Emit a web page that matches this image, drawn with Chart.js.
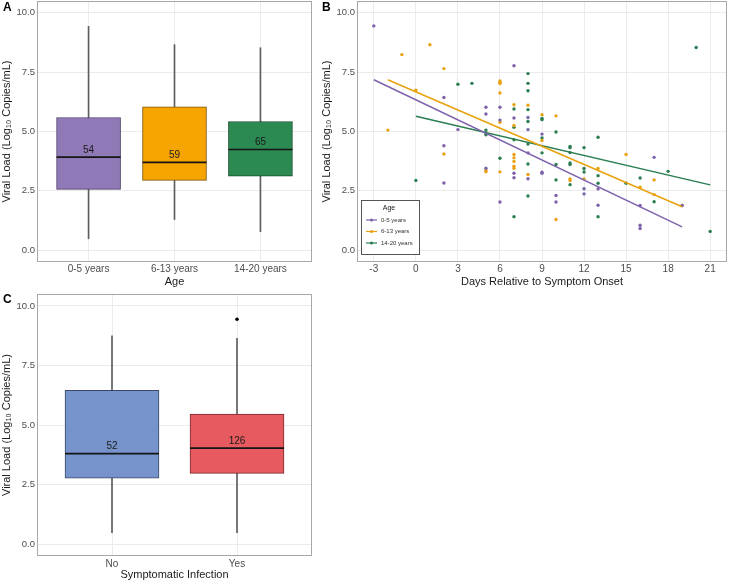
<!DOCTYPE html>
<html>
<head>
<meta charset="utf-8">
<script src="https://cdn.jsdelivr.net/npm/chart.js@4.4.1/dist/chart.umd.min.js"></script>
<style>
  body { margin: 0; background: #fff; width: 729px; height: 582px; position: relative; overflow: hidden; font-family: "Liberation Sans", Arial, sans-serif; }
  .panel { position: absolute; }
  .tag { position: absolute; font-weight: bold; font-size: 12px; color: #000; }
</style>
</head>
<body>
<div class="panel" style="left:0;top:0;width:364px;height:290px"><canvas id="chartA" width="364" height="290"></canvas></div>
<div class="panel" style="left:320px;top:0;width:409px;height:290px"><canvas id="chartB" width="409" height="290"></canvas></div>
<div class="panel" style="left:0;top:290px;width:364px;height:292px"><canvas id="chartC" width="364" height="292"></canvas></div>
<div class="tag" style="left:3px;top:0px">A</div>
<div class="tag" style="left:322px;top:0px">B</div>
<div class="tag" style="left:3px;top:292px">C</div>
<script>
// panel A: viral load by age group
const ageGroups = ['0-5 years', '6-13 years', '14-20 years'];
const ageLow = [0.48, 1.29, 0.78];
const ageQ1 = [2.56, 2.94, 3.12];
const ageMedian = [3.92, 3.70, 4.24];
const ageQ3 = [5.59, 6.04, 5.42];
const ageHigh = [9.43, 8.66, 8.53];
const ageCounts = [54, 59, 65];

// panel C: viral load by symptomatic infection
const symptomGroups = ['No', 'Yes'];
const symLow = [0.48, 0.48];
const symQ1 = [2.77, 2.97];
const symMedian = [3.80, 4.03];
const symQ3 = [6.46, 5.46];
const symHigh = [8.74, 8.64];
const symCounts = [52, 126];
const symOutlierGroup = [2];
const symOutlierValue = [9.44];

const yTicks = [0, 2.5, 5, 7.5, 10];
const dayTicks = [-3, 0, 3, 6, 9, 12, 15, 18, 21];

// panel B: viral load vs days since symptom onset
const days05 = [-3, 2, 2, 2, 3, 5, 5, 5, 6, 6, 6, 7, 7, 7, 7, 8, 8, 8, 8, 9, 9, 9, 10, 10, 12, 12, 13, 13, 16, 16, 16, 17, 19];
const load05 = [9.45, 6.43, 4.40, 2.83, 5.08, 6.02, 5.74, 3.45, 6.02, 5.48, 2.03, 7.77, 5.57, 3.24, 3.05, 5.59, 5.08, 4.10, 3.01, 4.89, 3.28, 3.24, 2.30, 2.03, 2.59, 2.37, 2.58, 1.89, 1.88, 1.05, 0.91, 3.91, 1.88];
const days613 = [-2, -1, 0, 1, 2, 2, 5, 5, 6, 6, 6, 6, 6, 6, 7, 7, 7, 7, 7, 7, 7, 8, 8, 9, 9, 10, 10, 11, 11, 12, 13, 15, 16, 17, 17, 19];
const load613 = [5.06, 8.24, 6.74, 8.66, 7.65, 4.05, 3.36, 3.30, 7.13, 7.07, 7.02, 6.62, 5.39, 3.30, 6.13, 5.25, 4.03, 3.89, 3.74, 3.54, 3.45, 6.11, 3.19, 5.71, 4.62, 5.66, 1.29, 3.00, 2.93, 3.00, 3.44, 4.03, 2.65, 2.96, 2.34, 1.88];
const days1420 = [0, 3, 4, 5, 5, 5, 6, 7, 7, 7, 7, 8, 8, 8, 8, 8, 8, 8, 8, 9, 9, 9, 9, 10, 10, 10, 11, 11, 11, 11, 11, 11, 12, 12, 12, 13, 13, 13, 13, 15, 16, 17, 18, 20, 21];
const load1420 = [2.94, 6.99, 7.03, 5.06, 4.94, 4.86, 3.87, 5.95, 5.18, 4.65, 1.41, 7.44, 7.03, 6.72, 5.92, 5.42, 4.47, 3.63, 2.28, 5.55, 5.50, 4.73, 4.10, 4.98, 3.61, 2.96, 4.37, 4.32, 4.11, 3.67, 3.61, 2.76, 4.32, 3.44, 3.29, 4.76, 3.14, 2.82, 1.41, 2.82, 3.04, 2.04, 3.32, 8.54, 0.79];

// fitted regression lines (end points)
const fitDays05 = [-3, 19];
const fitLoad05 = [7.18, 0.98];
const fitDays613 = [-2, 19];
const fitLoad613 = [7.18, 1.83];
const fitDays1420 = [0, 21];
const fitLoad1420 = [5.64, 2.75];

Chart.defaults.font.family = '"Liberation Sans", Arial, sans-serif';
Chart.defaults.animation = false;
Chart.defaults.plugins.legend.display = false;
Chart.defaults.plugins.tooltip.enabled = false;

const yTitle = 'Viral Load (Log\u2081\u2080 Copies/mL)';

function toPoints(xs, ys) {
    return xs.map((x, i) => ({ x: x, y: ys[i] }));
}

// chart.js pads the area for the edge tick labels, drop that so the plot fills its box
function noEdgePadding(s) {
    s.paddingTop = 0;
    s.paddingBottom = 0;
    s.paddingLeft = 0;
    s.paddingRight = 0;
}

function yAxis() {
    return {
        type: 'linear',
        min: -0.5,
        max: 10.5,
        afterBuildTicks: s => { s.ticks = yTicks.map(v => ({ value: v })); },
        afterFit: s => { s.width = 37; noEdgePadding(s); },
        ticks: {
            callback: v => v.toFixed(1),
            color: '#4d4d4d',
            font: { size: 9.5 },
            padding: 2
        },
        grid: { color: '#ebebeb', drawTicks: false },
        border: { display: false },
        title: { display: true, text: yTitle, color: '#1a1a1a', font: { size: 11 }, padding: { top: 0.5, bottom: 0 } }
    };
}

function xCategoryAxis(labels, height, title, tickPad, titlePad) {
    return {
        type: 'linear',
        offset: false,
        min: 0.4,
        max: labels.length + 0.6,
        afterBuildTicks: s => { s.ticks = labels.map((l, i) => ({ value: i + 1 })); },
        afterFit: s => { s.height = height; noEdgePadding(s); },
        ticks: {
            callback: v => labels[v - 1],
            color: '#4d4d4d',
            font: { size: 10 },
            padding: tickPad,
            maxRotation: 0,
            autoSkip: false
        },
        grid: { color: '#ebebeb', drawTicks: false, offset: false },
        border: { display: false },
        title: { display: true, text: title, color: '#1a1a1a', font: { size: 11 }, padding: { top: 0, bottom: titlePad } }
    };
}

const panelBorder = {
    id: 'panelBorder',
    afterDraw(chart) {
        const { ctx, chartArea: a } = chart;
        ctx.save();
        ctx.strokeStyle = '#a8a8a8';
        ctx.lineWidth = 1;
        ctx.strokeRect(Math.round(a.left) + 0.5, Math.round(a.top) + 0.5, Math.round(a.width) - 1, Math.round(a.height) - 1);
        ctx.restore();
    }
};

function boxMarks(medians, counts, boxWidth) {
    return {
        id: 'boxMarks',
        afterDatasetsDraw(chart) {
            const { ctx, scales } = chart;
            ctx.save();
            medians.forEach((m, i) => {
                const cx = scales.x.getPixelForValue(i + 1);
                const y = scales.y.getPixelForValue(m);
                ctx.strokeStyle = '#151515';
                ctx.lineWidth = 1.6;
                ctx.beginPath();
                ctx.moveTo(cx - boxWidth / 2, y);
                ctx.lineTo(cx + boxWidth / 2, y);
                ctx.stroke();
                ctx.fillStyle = '#1a1a1a';
                ctx.font = '10px "Liberation Sans", Arial, sans-serif';
                ctx.textAlign = 'center';
                ctx.textBaseline = 'middle';
                ctx.fillText(String(counts[i]), cx, y - 7);
            });
            ctx.restore();
        }
    };
}

function boxDatasets(q1, q3, low, high, fills, borders, boxWidth) {
    return [
        {
            type: 'bar',
            data: q1.map((v, i) => ({ x: i + 1, y: [v, q3[i]] })),
            backgroundColor: fills,
            borderColor: borders,
            borderWidth: 1,
            borderSkipped: false,
            barThickness: boxWidth,
            grouped: false
        },
        {
            type: 'bar',
            data: low.map((v, i) => ({ x: i + 1, y: [v, high[i]] })),
            backgroundColor: '#5e5e5e',
            barThickness: 1,
            grouped: false
        }
    ];
}

// Panel A
const boxWidthA = 64;
new Chart(document.getElementById('chartA'), {
    type: 'bar',
    data: {
        datasets: boxDatasets(ageQ1, ageQ3, ageLow, ageHigh,
            ['#9079b7', '#f5a400', '#2b8a52'],
            ['#4b3c66', '#7c5400', '#174a2b'], boxWidthA)
    },
    options: {
        responsive: false,
        layout: { autoPadding: false, padding: { top: 1, right: 52, left: 0, bottom: 0 } },
        scales: {
            x: xCategoryAxis(ageGroups, 28, 'Age', 1.5, 1.7),
            y: yAxis()
        }
    },
    plugins: [boxMarks(ageMedian, ageCounts, boxWidthA), panelBorder]
});

// Panel C
const boxWidthC = 94;
const cSets = boxDatasets(symQ1, symQ3, symLow, symHigh,
    ['#7694cb', '#e65a60'],
    ['#3a4766', '#762a2e'], boxWidthC);
cSets.push({
    type: 'scatter',
    data: toPoints(symOutlierGroup, symOutlierValue),
    backgroundColor: '#000',
    borderWidth: 0,
    pointRadius: 1.8
});
new Chart(document.getElementById('chartC'), {
    type: 'bar',
    data: { datasets: cSets },
    options: {
        responsive: false,
        layout: { autoPadding: false, padding: { top: 4, right: 52, left: 0, bottom: 0 } },
        scales: {
            x: xCategoryAxis(symptomGroups, 26, 'Symptomatic Infection', 2.3, 0.4),
            y: yAxis()
        }
    },
    plugins: [boxMarks(symMedian, symCounts, boxWidthC), panelBorder]
});

// Panel B
const groupNames = ['0-5 years', '6-13 years', '14-20 years'];
const pointColors = ['#7c62ab', '#e8a112', '#2a7d50'];
const lineColors = ['#7e62ad', '#e8a20c', '#2a7d4f'];

const ageLegend = {
    id: 'ageLegend',
    afterDraw(chart) {
        const { ctx, chartArea: a } = chart;
        const x0 = a.left + 4, y0 = a.bottom - 62;
        ctx.save();
        ctx.fillStyle = '#fff';
        ctx.fillRect(x0, y0, 58, 54);
        ctx.strokeStyle = '#555';
        ctx.lineWidth = 1;
        ctx.strokeRect(Math.round(x0) + 0.5, Math.round(y0) + 0.5, 58, 54);
        ctx.fillStyle = '#1a1a1a';
        ctx.font = '7px "Liberation Sans", Arial, sans-serif';
        ctx.textAlign = 'center';
        ctx.textBaseline = 'middle';
        ctx.fillText('Age', x0 + 28, y0 + 8);
        groupNames.forEach((name, i) => {
            const y = y0 + 20 + i * 11.5;
            ctx.strokeStyle = lineColors[i];
            ctx.lineWidth = 1.2;
            ctx.beginPath();
            ctx.moveTo(x0 + 5, y);
            ctx.lineTo(x0 + 16, y);
            ctx.stroke();
            ctx.fillStyle = pointColors[i];
            ctx.beginPath();
            ctx.arc(x0 + 10.5, y, 1.6, 0, Math.PI * 2);
            ctx.fill();
            ctx.fillStyle = '#333';
            ctx.font = '6px "Liberation Sans", Arial, sans-serif';
            ctx.textAlign = 'left';
            ctx.fillText(name, x0 + 20, y);
        });
        ctx.restore();
    }
};

const fitSets = [
    toPoints(fitDays05, fitLoad05),
    toPoints(fitDays613, fitLoad613),
    toPoints(fitDays1420, fitLoad1420)
].map((pts, i) => ({
    type: 'line',
    data: pts,
    borderColor: lineColors[i],
    borderWidth: 1.5,
    pointRadius: 0,
    fill: false
}));

const scatterSets = [
    toPoints(days05, load05),
    toPoints(days613, load613),
    toPoints(days1420, load1420)
].map((pts, i) => ({
    type: 'scatter',
    data: pts,
    backgroundColor: pointColors[i],
    borderWidth: 0,
    pointRadius: 1.7
}));

new Chart(document.getElementById('chartB'), {
    type: 'scatter',
    data: { datasets: fitSets.concat(scatterSets) },
    options: {
        responsive: false,
        layout: { autoPadding: false, padding: { top: 1, right: 2, left: 0, bottom: 0 } },
        scales: {
            x: {
                type: 'linear',
                offset: false,
                min: -4.2,
                max: 22.2,
                afterBuildTicks: s => { s.ticks = dayTicks.map(v => ({ value: v })); },
                afterFit: s => { s.height = 28; noEdgePadding(s); },
                ticks: { callback: v => String(v), color: '#4d4d4d', font: { size: 10 }, padding: 1.5 },
                grid: { color: '#ebebeb', drawTicks: false },
                border: { display: false },
                title: { display: true, text: 'Days Relative to Symptom Onset', color: '#1a1a1a', font: { size: 11 }, padding: { top: 0, bottom: 1.7 } }
            },
            y: yAxis()
        }
    },
    plugins: [panelBorder, ageLegend]
});
</script>
</body>
</html>
